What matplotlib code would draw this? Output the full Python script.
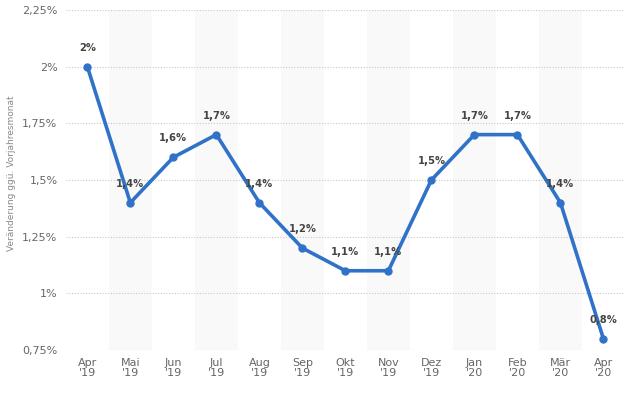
import matplotlib
matplotlib.use("Agg")
import matplotlib.pyplot as plt

months = ["Apr\n'19", "Mai\n'19", "Jun\n'19", "Jul\n'19", "Aug\n'19", "Sep\n'19", "Okt\n'19",
          "Nov\n'19", "Dez\n'19", "Jan\n'20", "Feb\n'20", "Mär\n'20", "Apr\n'20"]
values = [2.0, 1.4, 1.6, 1.7, 1.4, 1.2, 1.1, 1.1, 1.5, 1.7, 1.7, 1.4, 0.8]
point_labels = ["2%", "1,4%", "1,6%", "1,7%", "1,4%", "1,2%", "1,1%", "1,1%", "1,5%", "1,7%", "1,7%", "1,4%", "0,8%"]
yticks = [0.75, 1.0, 1.25, 1.5, 1.75, 2.0, 2.25]
ytick_labels = ["0,75%", "1%", "1,25%", "1,5%", "1,75%", "2%", "2,25%"]

fig = plt.figure(figsize=(6.39, 3.93), dpi=100)
ax = fig.add_axes([0.103, 0.109, 0.875, 0.866])

x = list(range(len(values)))
for i in x:
    if i % 2 == 1:
        ax.axvspan(i - 0.5, i + 0.5, color="#f9f9f9", zorder=0, lw=0)

ax.set_ylim(0.75, 2.25)
ax.set_xlim(-0.5, len(values) - 0.5)
ax.set_yticks(yticks)
ax.set_yticklabels(ytick_labels)
ax.set_xticks(x)
ax.set_xticklabels(months, linespacing=0.95)
ax.yaxis.grid(True, linestyle=(0, (1, 1.5)), color="#c8c8c8", lw=0.8, zorder=1)
for s in ax.spines.values():
    s.set_visible(False)
ax.tick_params(axis="both", length=0, colors="#666666", labelsize=8, pad=6)

ax.plot(x, values, color="#2f72c8", lw=2.6, marker="o", markersize=5, zorder=3,
        solid_joinstyle="miter")
for xi, v, lab in zip(x, values, point_labels):
    ax.annotate(lab, (xi, v), xytext=(0, 10), textcoords="offset points", ha="center",
                va="bottom", fontsize=7.2, fontweight="bold", color="#444444", zorder=4)

fig.text(0.018, 0.56, "Veränderung ggü. Vorjahresmonat", rotation=90, ha="center", va="center",
         fontsize=6.5, color="#888888")

fig.savefig("out.png", dpi=100)
